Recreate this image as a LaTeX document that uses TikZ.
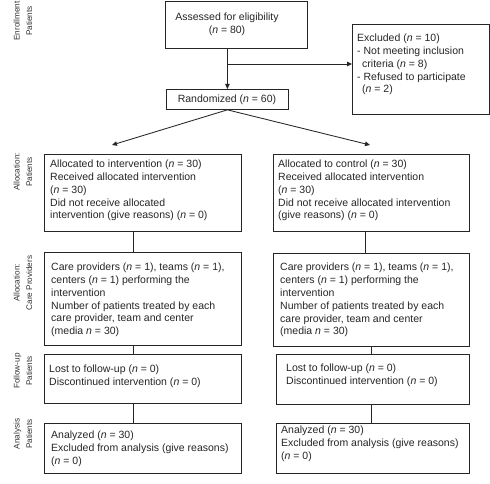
\documentclass[tikz,border=0pt]{standalone}
\usepackage{fontspec}
\setmainfont{Liberation Sans}
\usetikzlibrary{arrows.meta}
\newcommand{\nn}{\textit{n}}
\begin{document}
\begin{tikzpicture}[x=1pt,y=-1pt,
  box/.style={draw=black!85, line width=0.85pt, inner sep=0pt, anchor=north west},
  txt/.style={anchor=north west, inner sep=0pt, align=left, font=\fontsize{10.5}{12.8}\selectfont, text=black!85},
  side/.style={rotate=90, align=center, inner sep=0pt, font=\fontsize{8.2}{12.5}\selectfont, text=black!80},
  conn/.style={draw=black!85, line width=0.85pt},
  arr/.style={conn, -{Triangle[length=5pt,width=4.5pt]}}]
\useasboundingbox[fill=white] (0,0) rectangle (490,484);

% boxes
\node[box, minimum width=142pt, minimum height=47pt] (assess) at (165,1) {};
\node[box, minimum width=137pt, minimum height=90pt] (excl) at (352,24) {};
\node[box, minimum width=122pt, minimum height=20pt] (rand) at (166,89) {};
\node[box, minimum width=197pt, minimum height=77pt] (allocL) at (44,154) {};
\node[box, minimum width=196pt, minimum height=77pt] (allocR) at (273,154) {};
\node[box, minimum width=197pt, minimum height=93pt] (careL) at (44,252) {};
\node[box, minimum width=196pt, minimum height=93pt] (careR) at (273,253) {};
\node[box, minimum width=197pt, minimum height=49pt] (fuL) at (44,354) {};
\node[box, minimum width=193pt, minimum height=50pt] (fuR) at (276,354) {};
\node[box, minimum width=197pt, minimum height=50pt] (anL) at (44,423) {};
\node[box, minimum width=193pt, minimum height=50pt] (anR) at (276,423) {};

% texts
\node[txt, anchor=north, align=center] (tassess) at (227,12.8) {Assessed for eligibility\\(\nn{} = 80)};
\node[txt, anchor=north, align=center] (trand) at (227,94.8) {Randomized (\nn{} = 60)};
\node[txt] (texcl) at (357,33.8) {Excluded (\nn{} = 10)\\- Not meeting inclusion\\\hspace*{5pt}criteria (\nn{} = 8)\\- Refused to participate\\\hspace*{5pt}(\nn{} = 2)};
\node[txt] (tallocL) at (50,159.8) {Allocated to intervention (\nn{} = 30)\\Received allocated intervention\\(\nn{} = 30)\\Did not receive allocated\\intervention (give reasons) (\nn{} = 0)};
\node[txt] (tallocR) at (278,159.8) {Allocated to control (\nn{} = 30)\\Received allocated intervention\\(\nn{} = 30)\\Did not receive allocated intervention\\(give reasons) (\nn{} = 0)};
\node[txt] (tcareL) at (51,262.8) {Care providers (\nn{} = 1), teams (\nn{} = 1),\\centers (\nn{} = 1) performing the\\intervention\\Number of patients treated by each\\care provider, team and center\\(media \nn{} = 30)};
\node[txt] (tcareR) at (280,263) {Care providers (\nn{} = 1), teams (\nn{} = 1),\\centers (\nn{} = 1) performing the\\intervention\\Number of patients treated by each\\care provider, team and center\\(media \nn{} = 30)};
\node[txt] (tfuL) at (49,364.8) {Lost to follow-up (\nn{} = 0)\\Discontinued intervention (\nn{} = 0)};
\node[txt] (tfuR) at (286,364) {Lost to follow-up (\nn{} = 0)\\Discontinued intervention (\nn{} = 0)};
\node[txt] (tanL) at (51,431) {Analyzed (\nn{} = 30)\\Excluded from analysis (give reasons)\\(\nn{} = 0)};
\node[txt] (tanR) at (281,426) {Analyzed (\nn{} = 30)\\Excluded from analysis (give reasons)\\(\nn{} = 0)};

% side labels
\node[side] (s1) at (23,21) {Enrollment\\Patients};
\node[side] (s2) at (23,172) {Allocation:\\Patients};
\node[side] (s3) at (23,283) {Allocation:\\Care Providers};
\node[side] (s4) at (23,371) {Follow-up\\Patients};
\node[side] (s5) at (23,434) {Analysis\\Patients};

% connectors
\coordinate (branch) at (227,64);
\coordinate (endL) at (112,145);
\coordinate (endR) at (370,145);
\draw[arr] (assess.south -| rand.north) -- (rand.north);
\draw[arr] (branch) -- (branch -| excl.west);
\draw[arr] (rand.south) -- (endL);
\draw[arr] (rand.south) -- (endR);
\draw[conn] (allocL.south) ++(-9.5,0) coordinate (cL1) -- (cL1 |- careL.north);
\draw[conn] (allocR.south) ++(-6,0) coordinate (cR1) -- (cR1 |- careR.north);
\draw[conn] (cL1 |- careL.south) -- (cL1 |- fuL.north);
\draw[conn] (fuR.north) ++(-1.5,0) coordinate (cR2) -- (cR2 |- careR.south);
\draw[conn] (cL1 |- fuL.south) -- (cL1 |- anL.north);
\draw[conn] (cR2 |- fuR.south) -- (cR2 |- anR.north);
\end{tikzpicture}
\end{document}
